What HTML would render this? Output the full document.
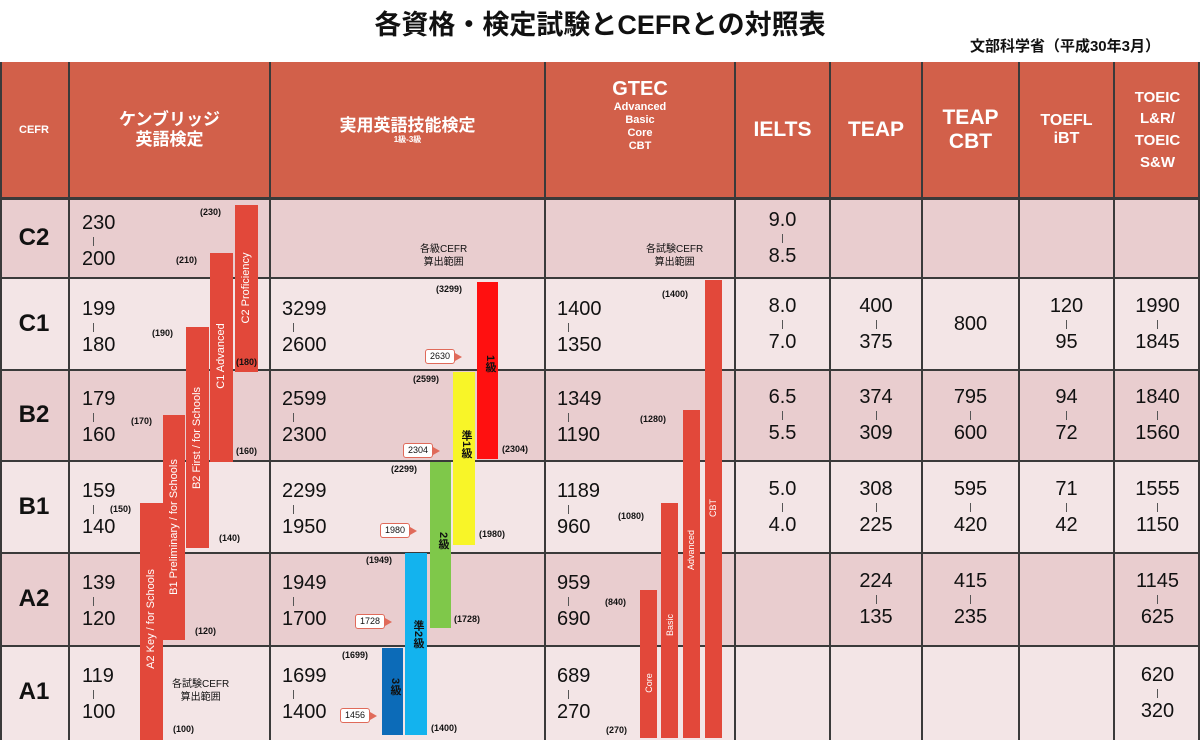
<!DOCTYPE html>
<html><head><meta charset="utf-8">
<style>
*{margin:0;padding:0;box-sizing:border-box}
body{width:1200px;height:740px;background:#fff;position:relative;overflow:hidden;font-family:"Liberation Sans","Noto Sans CJK JP",sans-serif;color:#111}
.a{position:absolute}
.hd{position:absolute;top:62px;height:136px;background:#d2604a;color:#fff;font-weight:bold;display:flex;flex-direction:column;align-items:center;justify-content:center;text-align:center;line-height:1.15}
.row{position:absolute;left:0;width:1200px}
.dk{background:#e9cdcf}.lt{background:#f3e5e6}
.vl{position:absolute;top:62px;height:678px;width:2px;background:#3a3a3a}
.hl{position:absolute;left:0;width:1200px;height:2px;background:#3a3a3a}
.c{position:absolute;display:flex;flex-direction:column;align-items:center;justify-content:center;font-size:20px;line-height:1.05;text-align:center}
.c i{display:block;width:1px;height:9px;background:#555;margin:3px 0}
.l{position:absolute;font-size:20px;line-height:1.05;text-align:left}
.l i{display:block;width:1px;height:9px;background:#555;margin:3px 0 3px 11px}
.bar{position:absolute;background:#e2483a}
.vt{position:absolute;color:#fff;font-size:11px;white-space:nowrap;transform:rotate(-90deg);transform-origin:center}
.sm{position:absolute;font-size:9px;font-weight:bold;white-space:nowrap}
.co{position:absolute;font-size:9px;background:#fff;border:1.5px solid #e06a5a;border-radius:3px;padding:0 4px;height:15px;line-height:13px}
.co:after{content:"";position:absolute;right:-8px;top:3px;border-left:7px solid #e06a5a;border-top:4px solid transparent;border-bottom:4px solid transparent}
.k{position:absolute;font-size:11px;font-weight:bold;writing-mode:vertical-rl;color:#111}
.cf{position:absolute;left:0;width:68px;font-size:24px;font-weight:bold;text-align:center}
</style></head><body>
<div class="a" style="left:0;width:1200px;top:3px;text-align:center;font-size:27px;font-weight:bold">各資格・検定試験とCEFRとの対照表</div>
<div class="a" style="right:40px;top:35px;font-size:15px;font-weight:bold">文部科学省（平成30年3月）</div>

<div class="hd" style="left:0;width:1200px"></div>
<div class="hd" style="left:0;width:68px;font-size:11px">CEFR</div>
<div class="hd" style="left:70px;width:199px;font-size:17px">ケンブリッジ<br>英語検定</div>
<div class="hd" style="left:271px;width:273px;font-size:17px">実用英語技能検定<span style="font-size:8px">1級-3級</span></div>
<div class="hd" style="left:546px;width:188px;font-size:20px;line-height:1"><div style="margin-top:-28px">GTEC</div><div style="font-size:11px;line-height:1.2;margin-top:2px">Advanced<br>Basic<br>Core<br>CBT</div></div>
<div class="hd" style="left:736px;width:93px;font-size:21px">IELTS</div>
<div class="hd" style="left:831px;width:90px;font-size:21px">TEAP</div>
<div class="hd" style="left:923px;width:95px;font-size:21px">TEAP<br>CBT</div>
<div class="hd" style="left:1020px;width:93px;font-size:16px">TOEFL<br>iBT</div>
<div class="hd" style="left:1115px;width:85px;font-size:15px;line-height:1.45">TOEIC<br>L&amp;R/<br>TOEIC<br>S&amp;W</div>

<div class="row dk" style="top:198px;height:80px"></div>
<div class="row lt" style="top:278px;height:92px"></div>
<div class="row dk" style="top:370px;height:91px"></div>
<div class="row lt" style="top:461px;height:92px"></div>
<div class="row dk" style="top:553px;height:93px"></div>
<div class="row lt" style="top:646px;height:94px"></div>

<div class="hl" style="top:197px;height:3px"></div>
<div class="hl" style="top:277px"></div><div class="hl" style="top:369px"></div>
<div class="hl" style="top:460px"></div><div class="hl" style="top:552px"></div>
<div class="hl" style="top:645px"></div>
<div class="vl" style="left:0"></div><div class="vl" style="left:68px"></div><div class="vl" style="left:269px"></div>
<div class="vl" style="left:544px"></div><div class="vl" style="left:734px"></div><div class="vl" style="left:829px"></div>
<div class="vl" style="left:921px"></div><div class="vl" style="left:1018px"></div><div class="vl" style="left:1113px"></div>
<div class="vl" style="left:1198px"></div>

<div class="cf" style="top:224px">C2</div>
<div class="cf" style="top:310px">C1</div>
<div class="cf" style="top:401px">B2</div>
<div class="cf" style="top:493px">B1</div>
<div class="cf" style="top:585px">A2</div>
<div class="cf" style="top:678px">A1</div>

<div class="l" style="left:82px;top:213px">230<i></i>200</div>
<div class="l" style="left:82px;top:299px">199<i></i>180</div>
<div class="l" style="left:82px;top:389px">179<i></i>160</div>
<div class="l" style="left:82px;top:481px">159<i></i>140</div>
<div class="l" style="left:82px;top:573px">139<i></i>120</div>
<div class="l" style="left:82px;top:666px">119<i></i>100</div>
<div class="l" style="left:282px;top:299px">3299<i></i>2600</div>
<div class="l" style="left:282px;top:389px">2599<i></i>2300</div>
<div class="l" style="left:282px;top:481px">2299<i></i>1950</div>
<div class="l" style="left:282px;top:573px">1949<i></i>1700</div>
<div class="l" style="left:282px;top:666px">1699<i></i>1400</div>
<div class="l" style="left:557px;top:299px">1400<i></i>1350</div>
<div class="l" style="left:557px;top:389px">1349<i></i>1190</div>
<div class="l" style="left:557px;top:481px">1189<i></i>960</div>
<div class="l" style="left:557px;top:573px">959<i></i>690</div>
<div class="l" style="left:557px;top:666px">689<i></i>270</div>
<div class="c" style="left:736px;width:93px;top:198px;height:80px">9.0<i></i>8.5</div>
<div class="c" style="left:736px;width:93px;top:278px;height:92px">8.0<i></i>7.0</div>
<div class="c" style="left:736px;width:93px;top:370px;height:91px">6.5<i></i>5.5</div>
<div class="c" style="left:736px;width:93px;top:461px;height:92px">5.0<i></i>4.0</div>
<div class="c" style="left:831px;width:90px;top:278px;height:92px">400<i></i>375</div>
<div class="c" style="left:831px;width:90px;top:370px;height:91px">374<i></i>309</div>
<div class="c" style="left:831px;width:90px;top:461px;height:92px">308<i></i>225</div>
<div class="c" style="left:831px;width:90px;top:553px;height:93px">224<i></i>135</div>
<div class="c" style="left:923px;width:95px;top:278px;height:92px">800</div>
<div class="c" style="left:923px;width:95px;top:370px;height:91px">795<i></i>600</div>
<div class="c" style="left:923px;width:95px;top:461px;height:92px">595<i></i>420</div>
<div class="c" style="left:923px;width:95px;top:553px;height:93px">415<i></i>235</div>
<div class="c" style="left:1020px;width:93px;top:278px;height:92px">120<i></i>95</div>
<div class="c" style="left:1020px;width:93px;top:370px;height:91px">94<i></i>72</div>
<div class="c" style="left:1020px;width:93px;top:461px;height:92px">71<i></i>42</div>
<div class="c" style="left:1115px;width:85px;top:278px;height:92px">1990<i></i>1845</div>
<div class="c" style="left:1115px;width:85px;top:370px;height:91px">1840<i></i>1560</div>
<div class="c" style="left:1115px;width:85px;top:461px;height:92px">1555<i></i>1150</div>
<div class="c" style="left:1115px;width:85px;top:553px;height:93px">1145<i></i>625</div>
<div class="c" style="left:1115px;width:85px;top:646px;height:94px">620<i></i>320</div>

<div class="bar" style="left:235px;top:205px;width:23px;height:167px"></div>
<div class="bar" style="left:210px;top:253px;width:23px;height:209px"></div>
<div class="bar" style="left:186px;top:327px;width:23px;height:221px"></div>
<div class="bar" style="left:163px;top:415px;width:22px;height:225px"></div>
<div class="bar" style="left:140px;top:503px;width:23px;height:237px"></div>
<div class="vt" style="left:196px;top:282px;width:100px;text-align:center">C2 Proficiency</div>
<div class="vt" style="left:171px;top:350px;width:100px;text-align:center">C1 Advanced</div>
<div class="vt" style="left:137px;top:432px;width:120px;text-align:center">B2 First / for Schools</div>
<div class="vt" style="left:94px;top:521px;width:160px;text-align:center">B1 Preliminary / for Schools</div>
<div class="vt" style="left:81px;top:613px;width:140px;text-align:center">A2 Key / for Schools</div>
<div class="sm" style="left:200px;top:207px">(230)</div>
<div class="sm" style="left:176px;top:255px">(210)</div>
<div class="sm" style="left:152px;top:328px">(190)</div>
<div class="sm" style="left:131px;top:416px">(170)</div>
<div class="sm" style="left:110px;top:504px">(150)</div>
<div class="sm" style="left:236px;top:357px">(180)</div>
<div class="sm" style="left:236px;top:446px">(160)</div>
<div class="sm" style="left:219px;top:533px">(140)</div>
<div class="sm" style="left:195px;top:626px">(120)</div>
<div class="sm" style="left:173px;top:724px">(100)</div>
<div class="a" style="left:172px;top:678px;font-size:10px;text-align:center;line-height:1.3">各試験CEFR<br>算出範囲</div>

<div class="a" style="left:477px;top:282px;width:21px;height:177px;background:#ff1010"></div>
<div class="a" style="left:453px;top:372px;width:22px;height:173px;background:#f8f528"></div>
<div class="a" style="left:430px;top:462px;width:21px;height:166px;background:#7fc84a"></div>
<div class="a" style="left:405px;top:553px;width:22px;height:182px;background:#13b3ee"></div>
<div class="a" style="left:382px;top:648px;width:21px;height:87px;background:#0c6bb8"></div>
<div class="k" style="left:482px;top:355px">1級</div>
<div class="k" style="left:458px;top:430px">準1級</div>
<div class="k" style="left:435px;top:532px">2級</div>
<div class="k" style="left:410px;top:620px">準2級</div>
<div class="k" style="left:387px;top:678px">3級</div>
<div class="co" style="left:425px;top:349px">2630</div>
<div class="co" style="left:403px;top:443px">2304</div>
<div class="co" style="left:380px;top:523px">1980</div>
<div class="co" style="left:355px;top:614px">1728</div>
<div class="co" style="left:340px;top:708px">1456</div>
<div class="sm" style="left:436px;top:284px">(3299)</div>
<div class="sm" style="left:413px;top:374px">(2599)</div>
<div class="sm" style="left:391px;top:464px">(2299)</div>
<div class="sm" style="left:366px;top:555px">(1949)</div>
<div class="sm" style="left:342px;top:650px">(1699)</div>
<div class="sm" style="left:502px;top:444px">(2304)</div>
<div class="sm" style="left:479px;top:529px">(1980)</div>
<div class="sm" style="left:454px;top:614px">(1728)</div>
<div class="sm" style="left:431px;top:723px">(1400)</div>
<div class="a" style="left:420px;top:243px;font-size:10px;text-align:center;line-height:1.3">各級CEFR<br>算出範囲</div>

<div class="bar" style="left:705px;top:280px;width:17px;height:458px"></div>
<div class="bar" style="left:683px;top:410px;width:17px;height:328px"></div>
<div class="bar" style="left:661px;top:503px;width:17px;height:235px"></div>
<div class="bar" style="left:640px;top:590px;width:17px;height:148px"></div>
<div class="vt" style="left:693px;top:503px;width:40px;text-align:center;font-size:9px">CBT</div>
<div class="vt" style="left:666px;top:545px;width:50px;text-align:center;font-size:9px">Advanced</div>
<div class="vt" style="left:650px;top:620px;width:40px;text-align:center;font-size:9px">Basic</div>
<div class="vt" style="left:629px;top:678px;width:40px;text-align:center;font-size:9px">Core</div>
<div class="sm" style="left:662px;top:289px">(1400)</div>
<div class="sm" style="left:640px;top:414px">(1280)</div>
<div class="sm" style="left:618px;top:511px">(1080)</div>
<div class="sm" style="left:605px;top:597px">(840)</div>
<div class="sm" style="left:606px;top:725px">(270)</div>
<div class="a" style="left:646px;top:243px;font-size:10px;text-align:center;line-height:1.3">各試験CEFR<br>算出範囲</div>
</body></html>
